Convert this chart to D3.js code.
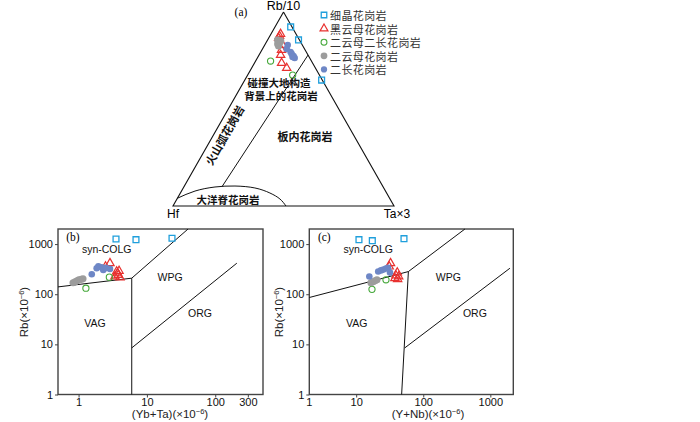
<!DOCTYPE html>
<html><head><meta charset="utf-8">
<script src="https://cdn.jsdelivr.net/npm/d3@7"></script>
<style>body{margin:0;background:#fff}svg{display:block}</style>
</head><body>
<svg id="chart" width="700" height="422"></svg>
<script>
// ---------- data ----------
const seriesNames = ["细晶花岗岩","黑云母花岗岩","二云母二长花岗岩","二云母花岗岩","二长花岗岩"];
// ternary (a): [Rb/10, Hf, Ta×3] in %
const ternAplite      = [[92.3,0.6,7.1],[85.6,0.4,14.0],[64.9,0.3,34.8]];
const ternBiotite     = [[88.7,7.0,4.3],[87.6,8.0,4.4],[86.6,8.9,4.5],[83.0,8.9,8.1],[80.4,10.7,8.9],[77.8,12.4,9.8],[73.7,14.0,12.3],[71.1,13.0,15.9]];
const ternTwoMicaMonzo= [[74.7,18.5,6.8],[67.5,12.1,20.4]];
const ternTwoMica     = [[85.6,9.9,4.5],[84.0,9.8,6.2],[83.5,10.9,5.6],[85.1,8.7,6.2],[82.5,11.0,6.5]];
const ternMonzo       = [[83.0,6.6,10.4],[80.9,8.1,11.0],[79.4,7.1,13.5],[78.4,7.1,14.5],[77.3,6.8,15.9],[76.3,6.8,16.9],[76.8,7.5,15.7]];
const ternBoundary    = [[77.8,0,22.2],[10.0,72.8,17.2]];
const ternRidgeCurve  = [[4.0,96.0,0],[7.7,86.2,6.1],[9.8,76.1,14.1],[10.3,66.8,22.9],[9.3,58.3,32.4],[6.7,52.8,40.5],[3.6,49.8,46.6],[0,48.9,51.1]];

// (b) Rb vs (Yb+Ta)
const bAplite       = [[3.53,1265],[6.92,1225],[23.3,1306]];
const bBiotite      = [[2.88,416],[2.48,356],[3.61,283],[3.81,243],[3.41,225],[4.04,215],[3.72,261],[3.91,292]];
const bTwoMicaMonzo = [[2.82,219],[1.28,132]];
const bTwoMica      = [[0.83,169],[0.89,177],[0.95,185],[1.01,194],[1.09,198],[1.16,203]];
const bMonzo        = [[1.95,359],[2.18,343],[1.84,331],[2.30,306],[2.88,320],[1.56,251],[2.52,335]];
const bLines = [[[0.5,140],[6,209]],[[6,1],[6,209]],[[6,209],[40,2000]],[[6,8.5],[207,416]]];

// (c) Rb vs (Y+Nb)
const cAplite       = [[11.0,1225],[17.4,1170],[51.6,1282]];
const cBiotite      = [[32.5,416],[31.1,356],[41,270],[39.2,236],[43,225],[37.8,209],[41.5,200]];
const cTwoMicaMonzo = [[27.8,194],[17.2,125]];
const cTwoMica      = [[16.6,169],[17.8,177],[19.1,185],[20.4,194]];
const cMonzo        = [[15.7,225],[21.3,283],[23.4,299],[25.5,310],[27.8,325],[29.8,335],[31.9,270]];
const cLines = [[[2,86],[60,283]],[[47.6,1],[60,283]],[[60,283],[418,2000]],[[53,8.5],[1960,330]]];

const yTicks  = [1,10,100,1000];
const bXTicks = [1,10,100,300];
const cXTicks = [10,100,1000];
const yDomain = [1,2000];

// ---------- styles ----------
const SANS="'Liberation Sans', Arial, sans-serif";
const CJK="'Noto Sans CJK SC', sans-serif";
const SERIF="'Liberation Serif','Times New Roman', serif";
const styles = [
  {sym:d3.symbolSquare,   size:34, stroke:"#1f9fdc", fill:"none", sw:1.3},
  {sym:d3.symbolTriangle, size:30, stroke:"#e8312f", fill:"none", sw:1.2},
  {sym:d3.symbolCircle,   size:30, stroke:"#45a83a", fill:"none", sw:1.1},
  {sym:d3.symbolCircle,   size:40, stroke:"none",    fill:"#9c9c9c", sw:0},
  {sym:d3.symbolCircle,   size:34, stroke:"none",    fill:"#6e87c6", sw:0}
];
const svg = d3.select("#chart");

function marks(g, data, st, fx, fy){
  g.selectAll(null).data(data).enter().append("path")
    .attr("d", d3.symbol().type(st.sym).size(st.size))
    .attr("transform", d=>`translate(${fx(d)},${fy(d)})`)
    .attr("fill", st.fill).attr("stroke", st.stroke).attr("stroke-width", st.sw);
}

// ---------- (a) ternary ----------
const rbY = d3.scaleLinear().domain([0,100]).range([206,12]);
const diffX = d3.scaleLinear().domain([-100,100]).range([173,394]);
const tx = d=>{const s=d[0]+d[1]+d[2]; return diffX((d[2]-d[1])/s*100);};
const ty = d=>{const s=d[0]+d[1]+d[2]; return rbY(d[0]/s*100);};
const tline = d3.line().x(tx).y(ty);
const ga = svg.append("g");
ga.append("path").attr("d", tline([[100,0,0],[0,100,0],[0,0,100],[100,0,0]])).attr("fill","none").attr("stroke","#111").attr("stroke-width",1.1);
ga.append("path").attr("d", tline(ternBoundary)).attr("fill","none").attr("stroke","#111").attr("stroke-width",1);
ga.append("path").attr("d", d3.line().x(tx).y(ty).curve(d3.curveNatural)(ternRidgeCurve)).attr("fill","none").attr("stroke","#111").attr("stroke-width",1);

[ternAplite,ternBiotite,ternTwoMicaMonzo,ternTwoMica,ternMonzo].forEach((s,i)=>marks(ga,s,styles[i],tx,ty));

ga.append("text").attr("x",tx([100,0,0])).attr("y",10).attr("text-anchor","middle").attr("font-family",SANS).attr("font-size",12.5).text("Rb/10");
ga.append("text").attr("x",tx([0,100,0])).attr("y",218).attr("text-anchor","middle").attr("font-family",SANS).attr("font-size",12).text("Hf");
ga.append("text").attr("x",tx([0,0,100])+3).attr("y",218).attr("text-anchor","middle").attr("font-family",SANS).attr("font-size",12).text("Ta×3");
ga.append("text").attr("x",241).attr("y",16).attr("text-anchor","middle").attr("font-family",SERIF).attr("font-size",11.5).text("(a)");
const regionFont = {"font-family":CJK,"font-weight":"bold","fill":"#111"};
function rlabel(t,x,y,fs,rot){
  const e=ga.append("text").attr("text-anchor","middle").attr("dominant-baseline","central").attr("font-size",fs).text(t);
  Object.entries(regionFont).forEach(([k,v])=>e.attr(k,v));
  e.attr("transform",`translate(${x},${y}) rotate(${rot||0})`);
}
rlabel("碰撞大地构造",279,82,10.5);
rlabel("背景上的花岗岩",281,95,10.5);
rlabel("板内花岗岩",305,136,11);
rlabel("火山弧花岗岩",224,135,11,-60.3);
rlabel("大洋脊花岗岩",228,199,10.5);

// legend
const leg = svg.append("g");
seriesNames.forEach((n,i)=>{
  const yy = 15 + i*13.6;
  const st = styles[i];
  leg.append("path").attr("d", d3.symbol().type(st.sym).size(st.size*0.9)).attr("transform",`translate(324,${yy})`)
    .attr("fill",st.fill).attr("stroke",st.stroke).attr("stroke-width",st.sw);
  leg.append("text").attr("x",330).attr("y",yy).attr("dominant-baseline","central").attr("font-family",CJK).attr("font-size",11).attr("letter-spacing",0.4).attr("fill","#333").text(n);
});

// ---------- (b), (c) ----------
function sup(textSel, before, after){
  textSel.append("tspan").text(before);
  textSel.append("tspan").attr("dy",-4).attr("font-size",7.5).text("−6");
  textSel.append("tspan").attr("dy",4).text(after);
}
function panel(p){
  const g = svg.append("g");
  const x = d3.scaleLog().domain(p.xDomain).range([p.left,p.right]);
  const y = d3.scaleLog().domain(yDomain).range([394.5,229]);
  g.append("rect").attr("x",p.left).attr("y",229).attr("width",p.right-p.left).attr("height",165.5)
    .attr("fill","none").attr("stroke","#444").attr("stroke-width",1.4);
  const ya = g.append("g").attr("transform",`translate(${p.left},0)`)
    .call(d3.axisLeft(y).tickValues(yTicks).tickFormat(d3.format("d")).tickSize(3).tickPadding(2));
  const xa = g.append("g").attr("transform",`translate(0,394.5)`)
    .call(d3.axisBottom(x).tickValues(p.xTicks).tickFormat(d3.format("d")).tickSize(3).tickPadding(1));
  [ya,xa].forEach(a=>{a.select(".domain").remove(); a.attr("font-family",SANS).attr("font-size",11);
    a.selectAll("text").attr("fill","#111"); a.selectAll("line").attr("stroke","#444");});
  if(p.cornerLabel){
    g.append("text").attr("x",x.range()[0]).attr("y",394.5+4).attr("dy","0.71em").attr("text-anchor","middle")
      .attr("font-family",SANS).attr("font-size",11).attr("fill","#111").text(p.cornerLabel);
  }
  const line = d3.line().x(d=>x(d[0])).y(d=>y(d[1]));
  p.lines.forEach(l=>g.append("path").attr("d",line(l)).attr("fill","none").attr("stroke","#111").attr("stroke-width",1));
  p.series.forEach((s,i)=>marks(g,s,styles[i],d=>x(d[0]),d=>y(d[1])));
  p.labels.forEach(l=>g.append("text").attr("x",x(l[1])).attr("y",y(l[2])).attr("text-anchor","middle").attr("dominant-baseline","central")
    .attr("font-family",SANS).attr("font-size",10.5).attr("fill","#111").text(l[0]));
  g.append("text").attr("x",p.left+15).attr("y",241).attr("text-anchor","middle").attr("font-family",SERIF).attr("font-size",11.5).text(p.tag);
  sup(g.append("text").attr("x",p.xTitleX).attr("y",418).attr("text-anchor","middle").attr("font-family",SANS).attr("font-size",11.5).attr("fill","#222"), p.xTitle, ")");
  sup(g.append("text").attr("transform",`translate(${p.yTitleX},312) rotate(-90)`).attr("text-anchor","middle").attr("font-family",SANS).attr("font-size",11.5).attr("fill","#222"), "Rb(×10", ")");
}
panel({left:58,right:263,xDomain:[0.5,500],xTicks:bXTicks,lines:bLines,tag:"(b)",
  series:[bAplite,bBiotite,bTwoMicaMonzo,bTwoMica,bMonzo],
  labels:[["syn-COLG",2.58,798],["WPG",21.8,224],["ORG",59.8,42],["VAG",1.74,26.7]],
  xTitle:"(Yb+Ta)(×10",xTitleX:170,yTitleX:28});
panel({left:309.3,right:513.3,xDomain:[2,2200],xTicks:cXTicks,lines:cLines,tag:"(c)",cornerLabel:"1",
  series:[cAplite,cBiotite,cTwoMicaMonzo,cTwoMica,cMonzo],
  labels:[["syn-COLG",15.1,798],["WPG",236,224],["ORG",589,41.6],["VAG",10.2,26.3]],
  xTitle:"(Y+Nb)(×10",xTitleX:428,yTitleX:283});
</script>
</body></html>
